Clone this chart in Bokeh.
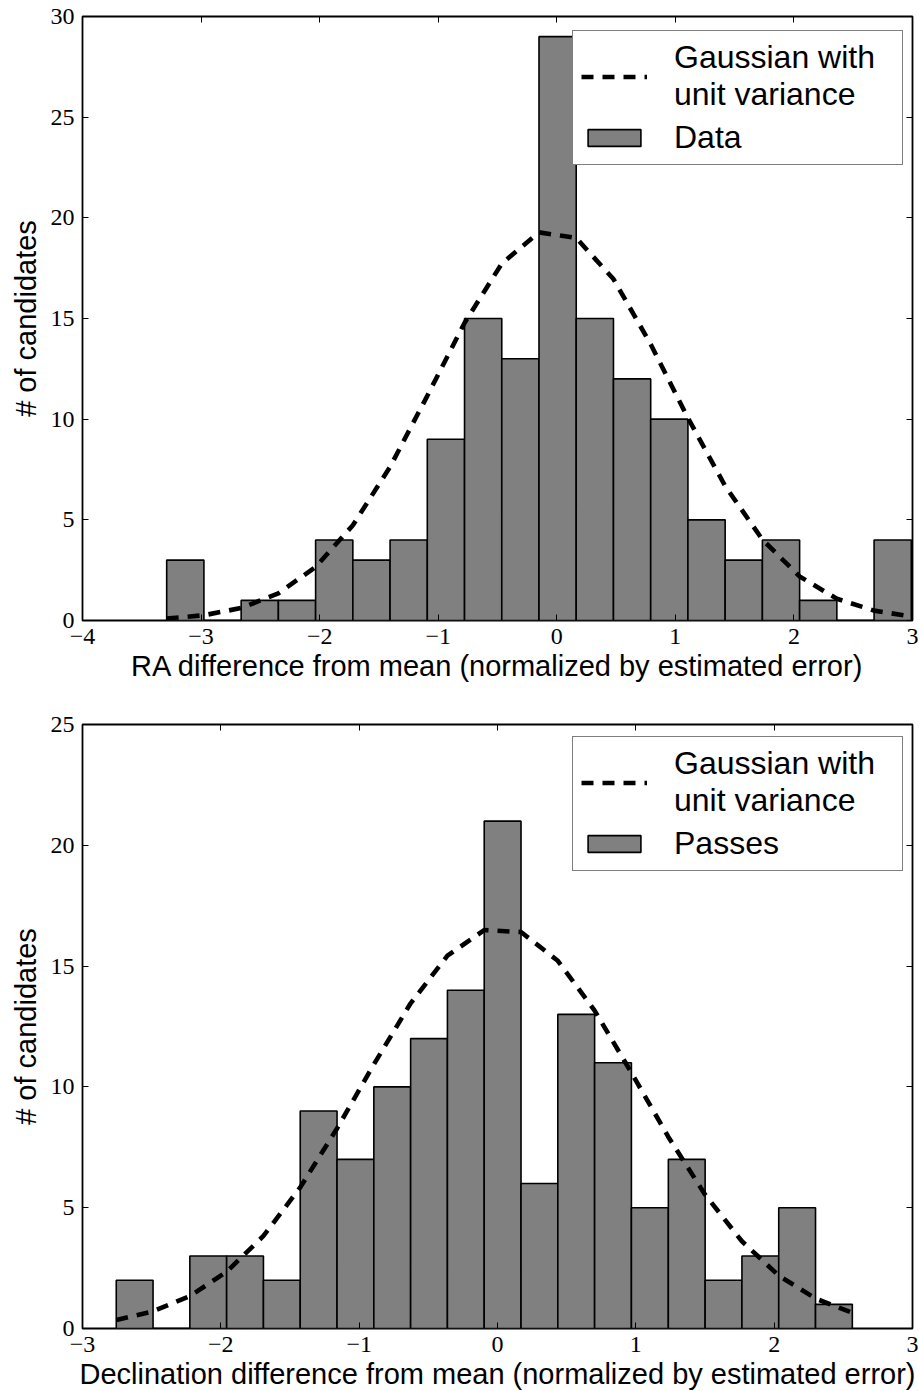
from bokeh.plotting import figure
from bokeh.models import (Legend, LegendItem, LinearAxis, FixedTicker,
                          CustomJSTickFormatter, Range1d, ColumnDataSource)
from bokeh.layouts import column
from bokeh.embed import file_html
from bokeh.resources import INLINE

# ---- RA histogram (top panel) ----
ra_edges = [-3.290, -2.976, -2.662, -2.348, -2.034, -1.720, -1.406, -1.092,
            -0.778, -0.464, -0.150, 0.164, 0.478, 0.792, 1.106, 1.420,
            1.734, 2.048, 2.362, 2.676, 2.990]
ra_counts = [3, 0, 1, 1, 4, 3, 4, 9, 15, 13, 29, 15, 12, 10, 5, 3, 4, 1, 0, 4]
ra_gauss = [0.10, 0.26, 0.62, 1.35, 2.66, 4.73, 7.63, 11.16, 14.78, 17.73,
            19.28, 19.00, 16.96, 13.72, 10.06, 6.68, 4.02, 2.19, 1.08, 0.49, 0.20]
ra_xticks = [-4, -3, -2, -1, 0, 1, 2, 3]
ra_yticks = [0, 5, 10, 15, 20, 25, 30]

# ---- Declination histogram (bottom panel) ----
dec_edges = [-2.756, -2.490, -2.224, -1.958, -1.692, -1.426, -1.160, -0.894,
             -0.628, -0.362, -0.096, 0.170, 0.436, 0.702, 0.968, 1.235,
             1.501, 1.767, 2.033, 2.299, 2.565]
dec_counts = [2, 0, 3, 3, 2, 9, 7, 10, 12, 14, 21, 6, 13, 11, 5, 7, 2, 3, 5, 1]
dec_gauss = [0.35, 0.71, 1.34, 2.35, 3.83, 5.84, 8.28, 10.93, 13.46, 15.43,
             16.49, 16.41, 15.22, 13.16, 10.59, 7.93, 5.54, 3.61, 2.19, 1.24, 0.65]
dec_xticks = [-3, -2, -1, 0, 1, 2, 3]
dec_yticks = [0, 5, 10, 15, 20, 25]

SANS = "Liberation Sans"
SERIF = "Liberation Serif"
minus_fmt = "return (tick < 0 ? '\u2212' : '') + Math.abs(tick).toString();"
blank_fmt = "return '';"


def make_panel(edges, counts, gauss, xticks, yticks, xr, yr, xlabel, barlabel,
               left, right, top, bottom, legend_loc):
    p = figure(width=919, height=top + 604 + bottom, frame_width=830, frame_height=604,
               x_range=Range1d(*xr), y_range=Range1d(*yr),
               output_backend="svg", toolbar_location=None,
               min_border_left=left, min_border_right=right,
               min_border_top=top, min_border_bottom=bottom)
    p.grid.visible = False
    p.outline_line_color = "black"
    p.outline_line_width = 1.8
    p.background_fill_color = "white"
    p.border_fill_color = "white"

    src = ColumnDataSource(dict(left=edges[:-1], right=edges[1:], top=counts,
                                bottom=[0] * len(counts)))
    bars = p.quad(left="left", right="right", top="top", bottom="bottom", source=src,
                  fill_color="#808080", line_color="black", line_width=1.6)
    gline = p.line(edges, gauss, line_color="black", line_width=4.6,
                   line_dash="12 9")

    for ax in (p.xaxis[0], p.yaxis[0]):
        ax.axis_line_color = None
        ax.major_tick_in = 6
        ax.major_tick_out = 0
        ax.major_tick_line_color = "black"
        ax.major_tick_line_width = 1
        ax.minor_tick_line_color = None
        ax.major_label_text_font = SERIF
        ax.major_label_text_font_size = "24px"
        ax.major_label_text_color = "black"
        ax.axis_label_text_font = SANS
        ax.axis_label_text_font_size = "29px"
        ax.axis_label_text_font_style = "normal"
        ax.axis_label_text_color = "black"
        ax.formatter = CustomJSTickFormatter(code=minus_fmt)
    p.xaxis[0].ticker = FixedTicker(ticks=xticks)
    p.yaxis[0].ticker = FixedTicker(ticks=yticks)
    p.xaxis[0].axis_label = xlabel
    p.yaxis[0].axis_label = "# of candidates"
    p.xaxis[0].major_label_standoff = 8
    p.yaxis[0].major_label_standoff = 8
    p.xaxis[0].axis_label_standoff = 3
    p.yaxis[0].axis_label_standoff = 6

    for loc, ticks in (("right", yticks), ("above", xticks)):
        ax = LinearAxis(ticker=FixedTicker(ticks=ticks),
                        formatter=CustomJSTickFormatter(code=blank_fmt))
        ax.axis_line_color = None
        ax.major_tick_in = 6
        ax.major_tick_out = 0
        ax.major_tick_line_color = "black"
        ax.minor_tick_line_color = None
        ax.major_label_standoff = 0
        p.add_layout(ax, loc)

    legend = Legend(items=[LegendItem(label="Gaussian with\nunit variance", renderers=[gline]),
                           LegendItem(label=barlabel, renderers=[bars])],
                    location=legend_loc)
    legend.margin = 0
    legend.padding = 8
    legend.spacing = 6
    legend.glyph_width = 66
    legend.glyph_height = 21
    legend.label_standoff = 27
    legend.label_width = 220
    legend.label_text_font = SANS
    legend.label_text_font_size = "32px"
    legend.label_text_line_height = 1.0
    legend.label_text_color = "black"
    legend.border_line_color = "black"
    legend.border_line_width = 1.8
    legend.background_fill_color = "white"
    legend.background_fill_alpha = 1.0
    p.add_layout(legend)
    return p


p1 = make_panel(ra_edges, ra_counts, ra_gauss, ra_xticks, ra_yticks, (-4, 3), (0, 30),
                "RA difference from mean (normalized by estimated error)", "Data",
                82, 7, 16, 84, (490, 455))
p2 = make_panel(dec_edges, dec_counts, dec_gauss, dec_xticks, dec_yticks, (-3, 3), (0, 25),
                "Declination difference from mean (normalized by estimated error)", "Passes",
                77, 12, 20, 63, (490, 457))

layout = column(p1, p2)
open("out.html", "w").write(file_html(layout, INLINE))
